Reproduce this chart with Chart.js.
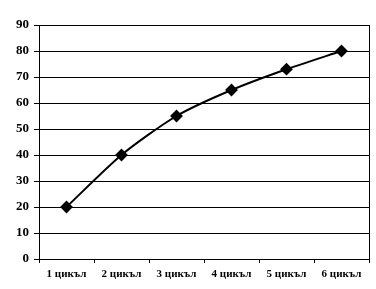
<!DOCTYPE html>
<html>
<head>
<meta charset="utf-8">
<script src="https://cdn.jsdelivr.net/npm/chart.js@4"></script>
<style>
  html, body { margin: 0; padding: 0; background: #fff; }
  #chart { display: block; }
</style>
</head>
<body>
<canvas id="chart" width="376" height="289"></canvas>
<script>
// Data
const categories = ['1 цикъл', '2 цикъл', '3 цикъл', '4 цикъл', '5 цикъл', '6 цикъл'];
const values = [20, 40, 55, 65, 73, 80];
const yTicks = [0, 10, 20, 30, 40, 50, 60, 70, 80, 90];

// Thin frame on the right edge of the plot area (shows in the original)
const frame = {
    id: 'frame',
    afterDraw(chart) {
        const { ctx, chartArea: a } = chart;
        ctx.save();
        ctx.strokeStyle = '#000';
        ctx.lineWidth = 1;
        ctx.beginPath();
        ctx.moveTo(Math.round(a.right) + 0.5, a.top);
        ctx.lineTo(Math.round(a.right) + 0.5, a.bottom);
        ctx.stroke();
        ctx.restore();
    }
};

new Chart(document.getElementById('chart'), {
    type: 'line',
    data: {
        labels: categories,
        datasets: [{
            data: values,
            borderColor: '#000',
            backgroundColor: '#000',
            borderWidth: 2,
            tension: 0.25,
            pointStyle: 'rectRot',
            pointRadius: 5,
            pointHoverRadius: 5
        }]
    },
    options: {
        responsive: false,
        animation: false,
        layout: { padding: { top: 25, right: 7, bottom: 0, left: 0 } },
        plugins: {
            legend: { display: false },
            tooltip: { enabled: false }
        },
        scales: {
            x: {
                offset: true,
                afterFit: (s) => { s.height = 30; },
                grid: {
                    offset: true,
                    drawOnChartArea: false,
                    color: '#000',
                    tickLength: 4
                },
                border: { color: '#000', width: 1 },
                ticks: {
                    color: '#000',
                    padding: 5,
                    maxRotation: 0,
                    font: { family: 'Liberation Serif', size: 11, weight: 'bold' }
                }
            },
            y: {
                min: 0,
                max: 90,
                afterFit: (s) => { s.width = 39; },
                afterBuildTicks: (s) => { s.ticks = yTicks.map(v => ({ value: v })); },
                grid: { color: '#000', tickLength: 5 },
                border: { color: '#000', width: 1 },
                ticks: {
                    color: '#000',
                    padding: 5,
                    font: { family: 'Liberation Serif', size: 13, weight: 'bold' }
                }
            }
        }
    },
    plugins: [frame]
});
</script>
</body>
</html>
